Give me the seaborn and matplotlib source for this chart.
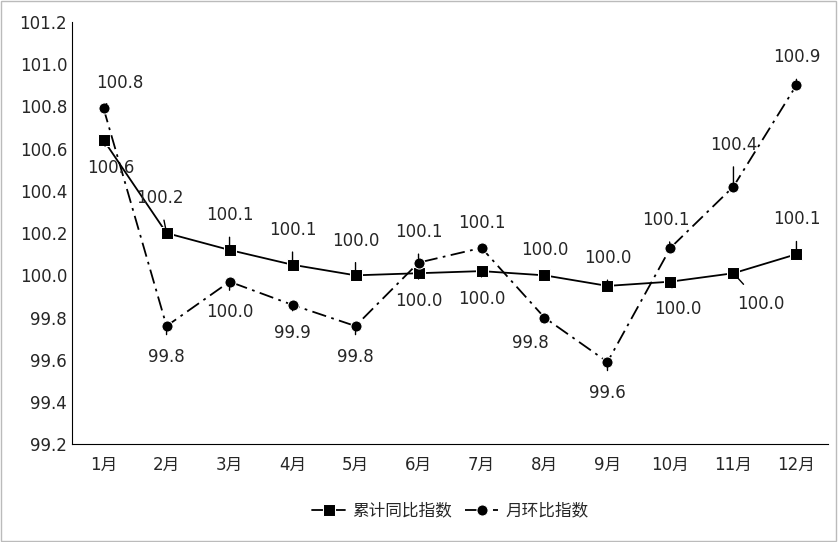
import numpy as np
import pandas as pd
import matplotlib.pyplot as plt
import seaborn as sns

months = ["1月", "2月", "3月", "4月", "5月", "6月", "7月", "8月", "9月", "10月", "11月", "12月"]
cum_yoy = [100.64, 100.20, 100.12, 100.05, 100.00, 100.01, 100.02, 100.00, 99.95, 99.97, 100.01, 100.10]
mom = [100.79, 99.76, 99.97, 99.86, 99.76, 100.06, 100.13, 99.80, 99.59, 100.13, 100.42, 100.90]
cum_labels = ["100.6", "100.2", "100.1", "100.1", "100.0", "100.0", "100.0", "100.0", "100.0", "100.0", "100.0", "100.1"]
mom_labels = ["100.8", "99.8", "100.0", "99.9", "99.8", "100.1", "100.1", "99.8", "99.6", "100.1", "100.4", "100.9"]

# label offsets in points (dx, dy)
cum_off = [(5, -20), (-5, 25), (0, 25), (0, 25), (0, 25), (0, -20), (0, -20), (0, 18), (0, 20), (5, -20), (20, -22), (0, 25)]
mom_off = [(12, 18), (0, -22), (0, -22), (0, -20), (0, -22), (0, 22), (0, 18), (-10, -18), (0, -22), (-3, 20), (0, 30), (0, 20)]

sns.set_style("white")
plt.rcParams['font.family'] = ['DejaVu Sans', 'Noto Sans CJK SC']

df = pd.DataFrame({"月份": months, "累计同比指数": cum_yoy, "月环比指数": mom})
df["x"] = np.arange(len(months))

fig = plt.figure(figsize=(8.38, 5.42), dpi=100)
ax = fig.add_axes([0.086, 0.18, 0.902, 0.78])
sns.lineplot(data=df, x="x", y="累计同比指数", ax=ax, color="black", lw=1.3,
             marker="s", markersize=8, label="累计同比指数")
sns.lineplot(data=df, x="x", y="月环比指数", ax=ax, color="black", lw=1.3, linestyle=(0, (8, 3, 1.5, 3)),
             marker="o", markersize=8, label="月环比指数")

for i in range(len(months)):
    for vals, labs, offs in ((cum_yoy, cum_labels, cum_off), (mom, mom_labels, mom_off)):
        dx, dy = offs[i]
        ax.annotate(labs[i], (i, vals[i]), xytext=(dx, dy), textcoords="offset points",
                    ha="center", va="center", fontsize=12,
                    arrowprops=dict(arrowstyle="-", color="black", lw=1, shrinkA=7, shrinkB=3))

ax.set_xlim(-0.5, 11.5)
ax.set_ylim(99.2, 101.2)
ax.set_yticks(np.arange(99.2, 101.21, 0.2))
ax.set_yticklabels([f"{v:.1f}" for v in np.arange(99.2, 101.21, 0.2)], fontsize=12)
ax.set_xticks(range(len(months)))
ax.set_xticklabels(months, fontsize=12)
ax.set_xticks(np.arange(-0.5, 12, 1), minor=True)
ax.tick_params(axis="x", which="major", length=0, pad=8)
ax.tick_params(axis="x", which="minor", length=5, direction="out")
ax.tick_params(axis="y", length=0)
ax.set_xlabel("")
ax.set_ylabel("")
for s in ["top", "right"]:
    ax.spines[s].set_visible(False)
for s in ["left", "bottom"]:
    ax.spines[s].set_color("black")

ax.legend(loc="upper center", bbox_to_anchor=(0.5, -0.1), ncol=2, frameon=False, fontsize=12,
          handlelength=2, handletextpad=0.4, columnspacing=0.8)
fig.patches.append(plt.Rectangle((0.001, 0.001), 0.997, 0.997, transform=fig.transFigure,
                                 fill=False, edgecolor="#bbbbbb", lw=1))
fig.savefig("out.png", dpi=100)
